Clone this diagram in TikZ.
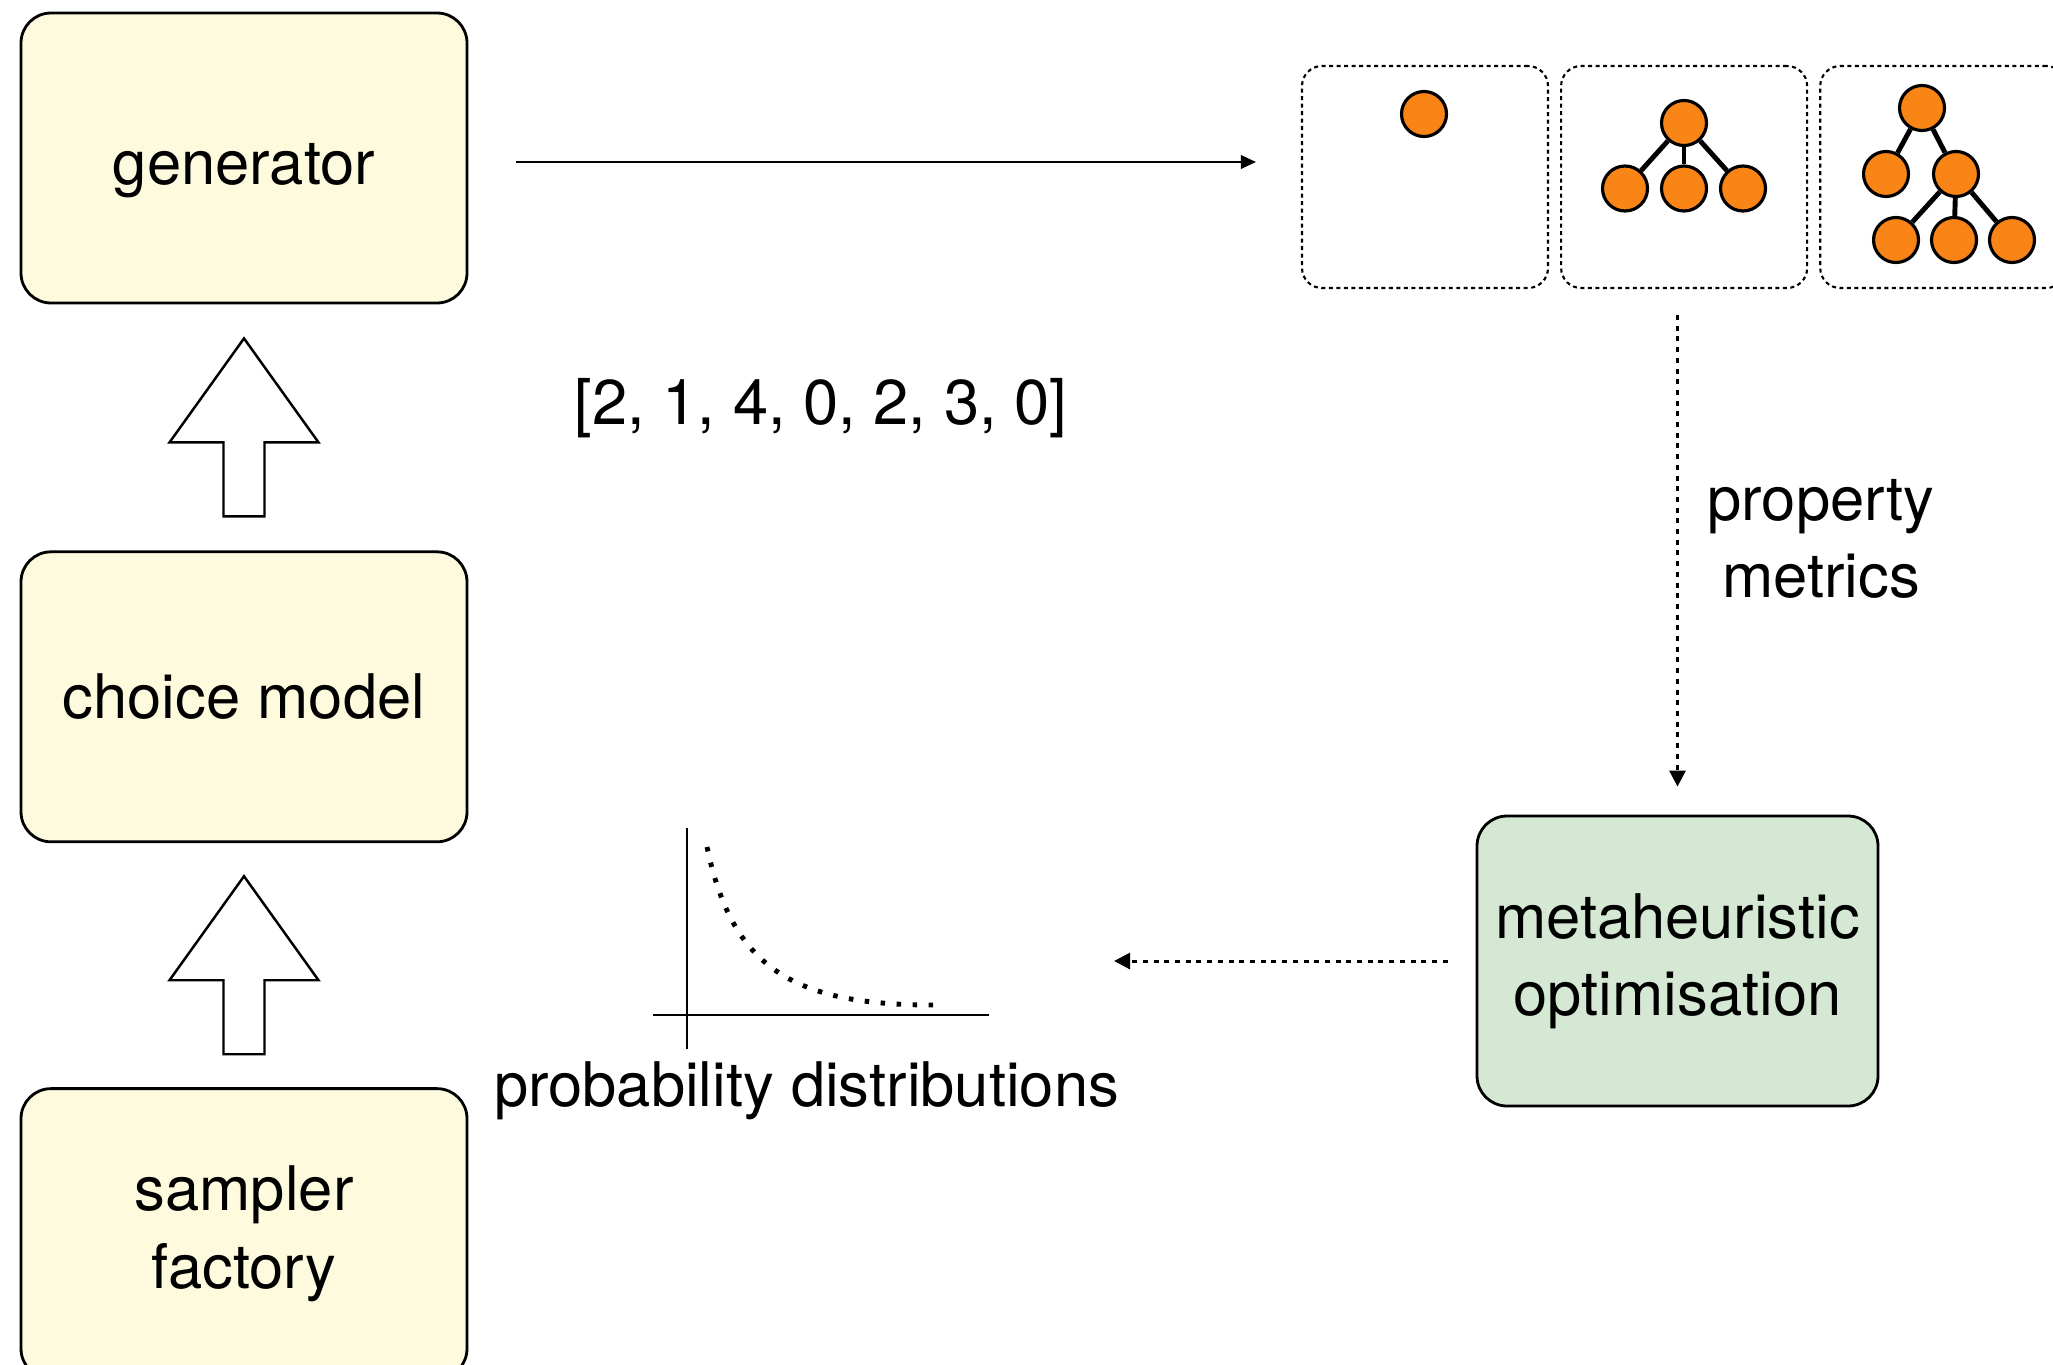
\documentclass[tikz,border=0pt]{standalone}
\usepackage{fontspec}
\setmainfont{TeX Gyre Heros}
\usepackage{xcolor}
\usetikzlibrary{arrows.meta,positioning,calc}

\definecolor{boxyellow}{RGB}{254,250,221}
\definecolor{optgreen}{RGB}{213,232,212}
\definecolor{treeorange}{RGB}{250,133,23}

\begin{document}
\begin{tikzpicture}[
    font=\fontsize{17.5}{22}\selectfont,
    block/.style={rectangle, draw, line width=0.8pt, fill=boxyellow, rounded corners=0.3cm, minimum width=4.46cm, minimum height=2.9cm, align=center},
    optbox/.style={block, fill=optgreen, minimum width=4.01cm},
    frame/.style={rectangle, draw, dash pattern=on 0.04cm off 0.035cm, line width=0.6pt, rounded corners=0.2cm, minimum width=2.46cm, minimum height=2.22cm},
    leaf/.style={circle, draw, line width=0.9pt, fill=treeorange, minimum size=0.45cm, inner sep=0pt},
    branch/.style={line width=1.4pt},
    arrow/.style={-{Triangle[length=0.15cm, width=0.135cm]}, line width=0.55pt},
    dotarrow/.style={-{Triangle[length=0.16cm, width=0.16cm]}, line width=0.85pt, dash pattern=on 0.05cm off 0.057cm},
    uparrow/.pic={\draw[line width=0.7pt, fill=white] (0,0.89) -- (0.745,-0.15) -- (0.205,-0.15) -- (0.205,-0.89) -- (-0.205,-0.89) -- (-0.205,-0.15) -- (-0.745,-0.15) -- cycle;}
]
\useasboundingbox (0,0) rectangle (20.53,13.64);

% Left column
\node[block] (gen) at (2.44,12.06) {\raisebox{0pt}[0.85em][0pt]{generator}};
\node[block, below=2.46cm of gen] (choice) {choice model};
\node[block, below=2.44cm of choice] (sampler) {sampler\\factory};

\pic at ($(gen.south)!0.5!(choice.north)$) {uparrow};
\pic at ($(choice.south)!0.5!(sampler.north)$) {uparrow};

% Generated trees
\node[frame] (f1) at (14.25,11.87) {};
\node[frame, right=0.11cm of f1] (f2) {};
\node[frame, right=0.11cm of f2] (f3) {};

\node[leaf] (a0) at (14.24,12.50) {};

\node[leaf] (b0) at (16.84,12.41) {};
\node[leaf] (b1) at (16.25,11.755) {};
\node[leaf] (b2) at (16.84,11.755) {};
\node[leaf] (b3) at (17.43,11.755) {};
\draw[branch] (b0) -- (b1);
\draw[branch] (b0) -- (b2);
\draw[branch] (b0) -- (b3);

\node[leaf] (c0) at (19.22,12.56) {};
\node[leaf] (c1) at (18.86,11.90) {};
\node[leaf] (c2) at (19.56,11.90) {};
\node[leaf] (c3) at (18.96,11.24) {};
\node[leaf] (c4) at (19.54,11.24) {};
\node[leaf] (c5) at (20.12,11.24) {};
\draw[branch] (c0) -- (c1);
\draw[branch] (c0) -- (c2);
\draw[branch] (c2) -- (c3);
\draw[branch] (c2) -- (c4);
\draw[branch] (c2) -- (c5);

% Optimisation
\node[optbox] (meta) at (16.775,4.03) {metaheuristic\\optimisation};

% Distributions plot
\draw[line width=0.6pt] (6.87,3.15) -- (6.87,5.36);
\draw[line width=0.6pt] (6.53,3.49) -- (9.89,3.49);
\draw[line width=1.4pt, dash pattern=on 0.045cm off 0.115cm] (7.07,5.17) .. controls (7.32,3.98) and (7.9,3.59) .. (9.33,3.59);
\coordinate (dist) at (11.14,4.03);

% Labels
\node[font=\fontsize{18}{22}\selectfont] (seq) at (8.21,9.56) {[2, 1, 4, 0, 2, 3, 0]};
\node[align=center] (metrics) at (18.21,8.25) {property\\metrics};
\node (probs) at (8.065,2.73) {probability distributions};

% Connections
\draw[arrow, shorten <=0.475cm, shorten >=0.45cm] ([yshift=-0.04cm]gen.east) -- ([yshift=-0.04cm]gen.east -| f1.west);
\draw[dotarrow, shorten <=0.26cm, shorten >=0.28cm] (f2.south -| meta.north) -- (meta.north);
\draw[dotarrow, shorten <=0.28cm] (meta.west) -- (dist);

\end{tikzpicture}
\end{document}
